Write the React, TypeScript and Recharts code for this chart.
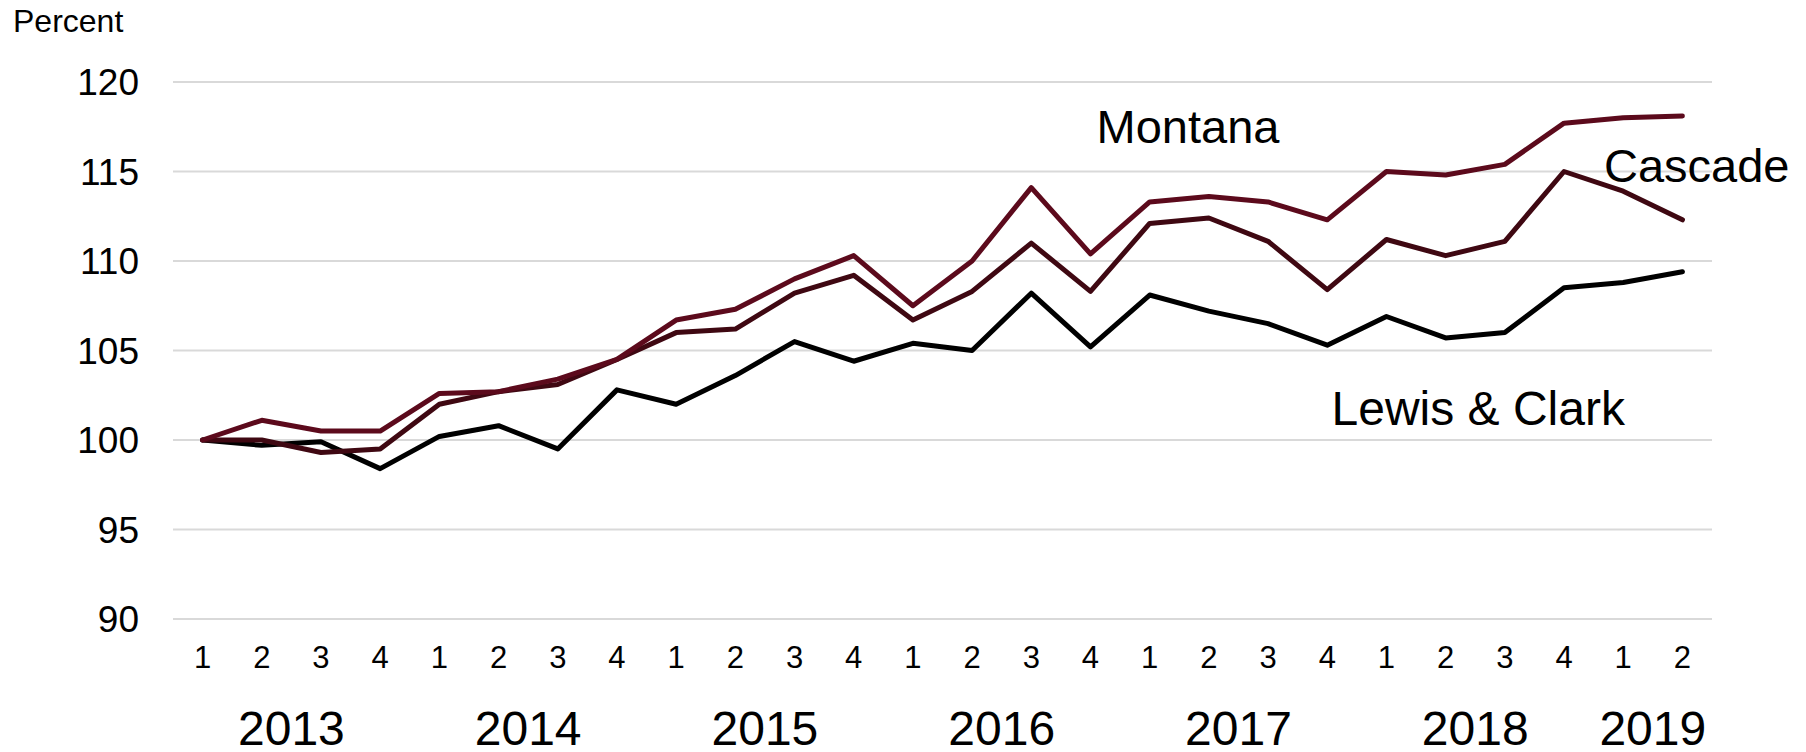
import React from "react";
import { LineChart, Line, XAxis, YAxis, CartesianGrid } from "recharts";

const periods = [
  "2013 Q1", "2013 Q2", "2013 Q3", "2013 Q4",
  "2014 Q1", "2014 Q2", "2014 Q3", "2014 Q4",
  "2015 Q1", "2015 Q2", "2015 Q3", "2015 Q4",
  "2016 Q1", "2016 Q2", "2016 Q3", "2016 Q4",
  "2017 Q1", "2017 Q2", "2017 Q3", "2017 Q4",
  "2018 Q1", "2018 Q2", "2018 Q3", "2018 Q4",
  "2019 Q1", "2019 Q2",
];
const quarterLabels = [
  "1", "2", "3", "4", "1", "2", "3", "4", "1", "2", "3", "4", "1", "2", "3", "4",
  "1", "2", "3", "4", "1", "2", "3", "4", "1", "2",
];
const yearLabels = [
  "2013", "2013", "2013", "2013", "2014", "2014", "2014", "2014",
  "2015", "2015", "2015", "2015", "2016", "2016", "2016", "2016",
  "2017", "2017", "2017", "2017", "2018", "2018", "2018", "2018",
  "2019", "2019",
];

const montana = [
  100, 101.1, 100.5, 100.5, 102.6, 102.7, 103.4, 104.5,
  106.7, 107.3, 109.0, 110.3, 107.5, 110.0, 114.1, 110.4,
  113.3, 113.6, 113.3, 112.3, 115.0, 114.8, 115.4, 117.7,
  118.0, 118.1,
];
const cascade = [
  100, 100.0, 99.3, 99.5, 102.0, 102.7, 103.1, 104.5,
  106.0, 106.2, 108.2, 109.2, 106.7, 108.3, 111.0, 108.3,
  112.1, 112.4, 111.1, 108.4, 111.2, 110.3, 111.1, 115.0,
  113.9, 112.3,
];
const lewisClark = [
  100, 99.7, 99.9, 98.4, 100.2, 100.8, 99.5, 102.8,
  102.0, 103.6, 105.5, 104.4, 105.4, 105.0, 108.2, 105.2,
  108.1, 107.2, 106.5, 105.3, 106.9, 105.7, 106.0, 108.5,
  108.8, 109.4,
];
const yTicks = [90, 95, 100, 105, 110, 115, 120];

const data = periods.map((p, i) => ({
  period: p,
  montana: montana[i],
  cascade: cascade[i],
  lewisClark: lewisClark[i],
}));

const W = 1806;
const H = 752;
const M = { top: 82, right: 94, left: 0, bottom: 0 };
const Y_AXIS_W = 173;
const BAND = (W - M.right - M.left - Y_AXIS_W) / periods.length;
const PAD = { left: BAND / 2, right: BAND / 2 };
const FONT = "'Liberation Sans', Arial, Helvetica, sans-serif";

const YearTick = (props: any) => {
  const { x, y, index } = props;
  const yr = yearLabels[index];
  let first = -1;
  let last = -1;
  yearLabels.forEach((v, i) => {
    if (v === yr) {
      if (first < 0) first = i;
      last = i;
    }
  });
  const mid = (first + last) / 2;
  if (index !== Math.floor(mid)) return <g />;
  return (
    <text
      x={x + (mid - index) * BAND}
      y={y}
      dy="0.71em"
      textAnchor="middle"
      fontSize={48}
      fontFamily={FONT}
      fill="#000"
    >
      {yr}
    </text>
  );
};

export default function App() {
  return (
    <div style={{ position: "absolute", left: 0, top: 0, width: W, height: H, background: "#fff" }}>
      <LineChart width={W} height={H} data={data} margin={M}>
        <CartesianGrid vertical={false} stroke="#d9d9d9" strokeWidth={2} />
        <XAxis
          dataKey="period"
          xAxisId={0}
          height={60}
          interval={0}
          padding={PAD}
          axisLine={false}
          tickLine={false}
          tickSize={0}
          tickMargin={27}
          tickFormatter={(v: any) => quarterLabels[periods.indexOf(v)]}
          tick={{ fontSize: 31, fontFamily: FONT, fill: "#000" }}
        />
        <XAxis
          dataKey="period"
          xAxisId="year"
          height={73}
          interval={0}
          padding={PAD}
          axisLine={false}
          tickLine={false}
          tickSize={0}
          tickMargin={32}
          tick={<YearTick />}
        />
        <YAxis
          width={Y_AXIS_W}
          domain={[90, 120]}
          ticks={yTicks}
          interval={0}
          axisLine={false}
          tickLine={false}
          tickSize={0}
          tickMargin={34}
          tick={{ fontSize: 37, fontFamily: FONT, fill: "#000" }}
        />
        <Line
          type="linear"
          dataKey="lewisClark"
          stroke="#000000"
          strokeWidth={5}
          strokeLinecap="round"
          strokeLinejoin="round"
          dot={false}
          activeDot={false}
          isAnimationActive={false}
        />
        <Line
          type="linear"
          dataKey="cascade"
          stroke="#3f0812"
          strokeWidth={5}
          strokeLinecap="round"
          strokeLinejoin="round"
          dot={false}
          activeDot={false}
          isAnimationActive={false}
        />
        <Line
          type="linear"
          dataKey="montana"
          stroke="#5c0a1c"
          strokeWidth={5}
          strokeLinecap="round"
          strokeLinejoin="round"
          dot={false}
          activeDot={false}
          isAnimationActive={false}
        />
      </LineChart>
      <svg
        width={W}
        height={H}
        style={{ position: "absolute", left: 0, top: 0, pointerEvents: "none" }}
      >
        <text x={13} y={31.7} fontSize={32} fontFamily={FONT} fill="#000">
          Percent
        </text>
        <text x={1096.5} y={143.3} fontSize={47} fontFamily={FONT} fill="#000">
          Montana
        </text>
        <text x={1604} y={182.3} fontSize={47} fontFamily={FONT} fill="#000">
          Cascade
        </text>
        <text x={1331.5} y={425} fontSize={48} fontFamily={FONT} fill="#000">
          Lewis &amp; Clark
        </text>
      </svg>
    </div>
  );
}
